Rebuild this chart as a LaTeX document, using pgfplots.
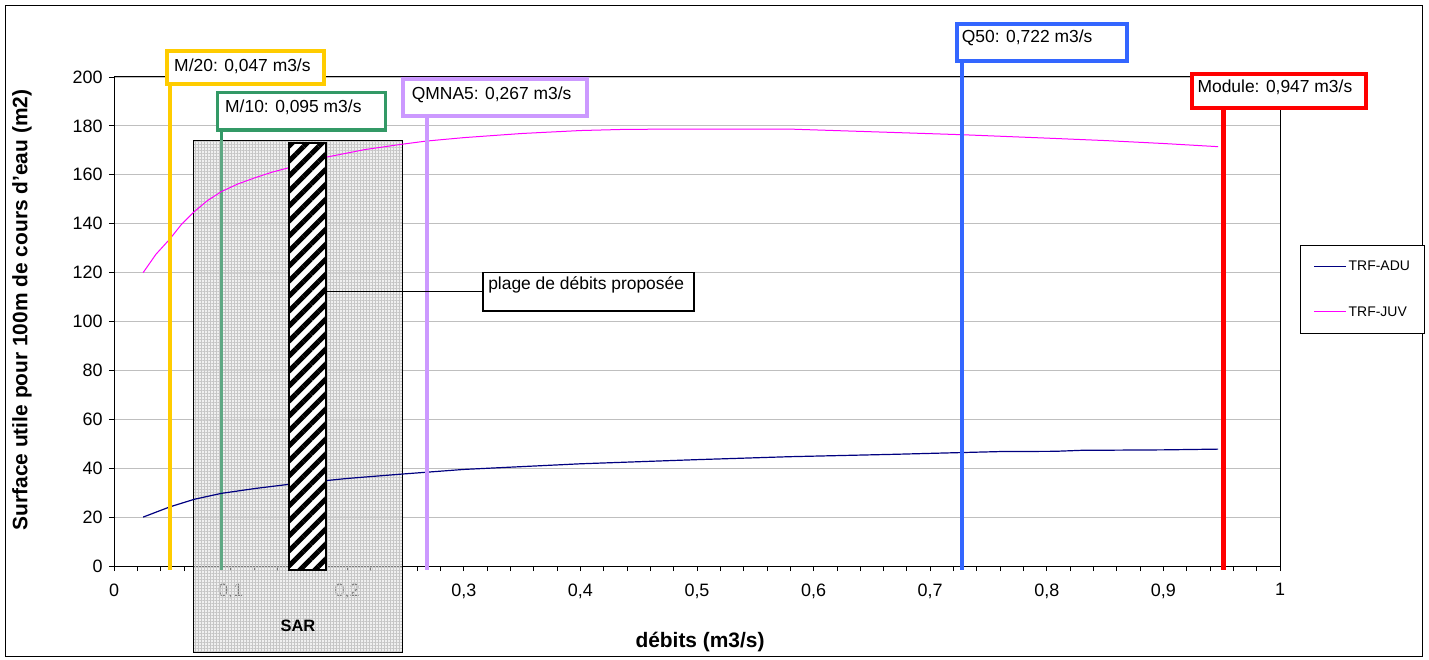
\documentclass[border=0pt]{standalone}
\usepackage{fontspec}
\setmainfont{Liberation Sans}
\usepackage{pgfplots}
\pgfplotsset{compat=1.18}
\usetikzlibrary{patterns.meta}
\definecolor{cyellow}{HTML}{FFCC00}
\definecolor{cgreen}{HTML}{339966}
\definecolor{cgreenm}{HTML}{5EA883}
\definecolor{cpurple}{HTML}{CC99FF}
\definecolor{cblue}{HTML}{3366FF}
\definecolor{cred}{HTML}{FF0000}
\definecolor{cnavy}{HTML}{000080}
\definecolor{cmag}{HTML}{FF00FF}
\begin{document}
\begin{tikzpicture}
\draw[black, line width=1bp] (-108bp,560bp) rectangle (1308bp,-90bp);
\begin{axis}[
  at={(0,0)}, anchor=south west,
  scale only axis, width=1166bp, height=489bp,
  xmin=0, xmax=1, ymin=0, ymax=200,
  set layers, clip=false,
  axis line style={line width=1bp},
  xtick={0,0.1,0.2,0.3,0.4,0.5,0.6,0.7,0.8,0.9,1},
  ytick={0,20,40,60,80,100,120,140,160,180,200},
  minor x tick num=4,
  xtick pos=left, ytick pos=left,
  tick align=outside,
  major tick length=5bp, minor tick length=5bp,
  tick style={black, line width=0.8bp},
  ymajorgrids, major grid style={gray!50, line width=0.8bp},
  /pgf/number format/use comma,
  /pgf/number format/assume math mode=true,
  tick label style={font=\fontsize{18}{18}\selectfont},
  xticklabel style={yshift=-9bp},
  yticklabel style={xshift=-3bp},
  xlabel={débits (m3/s)},
  ylabel={Surface utile pour 100m de cours d'eau (m2)},
  xlabel style={font=\bfseries\fontsize{21}{21}\selectfont, at={(axis description cs:0.5026,-0.1554)}, anchor=center},
  ylabel style={font=\bfseries\fontsize{21}{21}\selectfont, at={(axis description cs:-0.0789,0.5235)}, anchor=center},
  legend style={at={(1.01715,0.47444)}, anchor=south west, draw=black, line width=1bp,
    font=\fontsize{14}{14}\selectfont, inner xsep=13bp, inner ysep=14bp, row sep=30bp,
    cells={anchor=west}},
  legend image code/.code={\draw[#1] (0bp,0bp) -- (32bp,0bp);},
]
% SAR box
\addplot[forget plot, draw=black, line width=1bp, fill=gray!22, fill opacity=0.55,
  postaction={pattern={Hatch[angle=0,distance=3bp,line width=0.3bp]}, pattern color=gray!45, fill opacity=0.3}]
  coordinates {(0.0686,-35.2) (0.2470,-35.2) (0.2470,174.2) (0.0686,174.2)} --cycle;
% M/10 line (seen through the SAR box)
\addplot[forget plot, cgreenm, line width=3.5bp] coordinates {(0.0924,-1.6) (0.0924,174.2)};
\addplot[forget plot, cgreen, line width=3.5bp] coordinates {(0.0924,174.2) (0.0924,178.3)};
% curves
\addplot[cnavy, line width=1.2bp] coordinates {
(0.025,20) (0.048,24.2) (0.069,27.3) (0.092,29.7) (0.121,31.7) (0.15,33.4) (0.2,35.8) (0.247,37.6)
(0.3,39.5) (0.4,41.8) (0.5,43.5) (0.579,44.7) (0.671,45.7) (0.727,46.4) (0.76,46.8)
(0.807,46.9) (0.829,47.3) (0.9,47.5) (0.947,47.8)};
\addlegendentry{TRF-ADU}
\addplot[cmag, line width=1bp] coordinates {
(0.025,120) (0.036,127.5) (0.048,133.8) (0.058,139.8) (0.069,145) (0.080,149.4) (0.092,153.1)
(0.106,156.2) (0.121,158.8) (0.135,161) (0.15,162.9) (0.182,167.2) (0.215,170.3) (0.247,172.5)
(0.268,173.8) (0.3,175.2) (0.35,176.9) (0.4,178.1) (0.44,178.6) (0.503,178.7) (0.579,178.7)
(0.65,177.6) (0.727,176.4) (0.8,175.0) (0.85,174) (0.9,172.8) (0.947,171.5)};
\addlegendentry{TRF-JUV}
% proposed range (hatched bar)
\addplot[forget plot, draw=black, line width=1.5bp, preaction={fill=white},
  pattern={Lines[angle=45,distance=10.6bp,line width=5bp]}, pattern color=black]
  coordinates {(0.1501,-1.6) (0.1818,-1.6) (0.1818,173.0) (0.1501,173.0)} --cycle;
% reference discharge lines
\addplot[forget plot, cyellow, line width=4bp] coordinates {(0.0480,-1.6) (0.0480,197.1)};
\addplot[forget plot, cpurple, line width=4bp] coordinates {(0.2682,-1.6) (0.2682,184.0)};
\addplot[forget plot, cblue, line width=4bp] coordinates {(0.7271,-1.6) (0.7271,206.7)};
\addplot[forget plot, cred, line width=4.5bp] coordinates {(0.9514,-1.6) (0.9514,187.3)};
% label boxes
\draw[cyellow, line width=4bp, fill=white] (axis cs:0.0452,210.8) rectangle (axis cs:0.1801,197.1);
\node[anchor=base west, inner sep=0pt, font=\fontsize{17.5}{18}\selectfont] at (axis cs:0.0515,202.2) {M/20: 0,047 m3/s};
\draw[cgreen, line width=3.5bp, fill=white] (axis cs:0.0889,193.7) rectangle (axis cs:0.2330,178.3);
\node[anchor=base west, inner sep=0pt, font=\fontsize{17.5}{18}\selectfont] at (axis cs:0.0952,185.4) {M/10: 0,095 m3/s};
\draw[cpurple, line width=4bp, fill=white] (axis cs:0.2481,199.2) rectangle (axis cs:0.4057,184.0);
\node[anchor=base west, inner sep=0pt, font=\fontsize{17.5}{18}\selectfont] at (axis cs:0.2553,190.6) {QMNA5: 0,267 m3/s};
\draw[cblue, line width=4bp, fill=white] (axis cs:0.7232,221.7) rectangle (axis cs:0.8685,206.7);
\node[anchor=base west, inner sep=0pt, font=\fontsize{17.5}{18}\selectfont] at (axis cs:0.7270,214.0) {Q50: 0,722 m3/s};
\draw[cred, line width=4bp, fill=white] (axis cs:0.9243,201.2) rectangle (axis cs:1.0735,187.3);
\node[anchor=base west, inner sep=0pt, font=\fontsize{17.5}{18}\selectfont] at (axis cs:0.9291,193.6) {Module: 0,947 m3/s};
% callout
\draw[black, line width=1bp] (axis cs:0.1818,112.1) -- (axis cs:0.3165,112.1);
\draw[black, line width=1.2bp, fill=white] (axis cs:0.3165,120.2) rectangle (axis cs:0.4974,104.3);
\node[anchor=base west, inner sep=0pt, font=\fontsize{17.5}{18}\selectfont] at (axis cs:0.3208,113.2) {plage de débits proposée};
\node[font=\bfseries\fontsize{16.5}{17}\selectfont] at (axis cs:0.1578,-24.5) {SAR};
\end{axis}
\pgfresetboundingbox
\path[use as bounding box] (-114bp,-94bp) rectangle (1315bp,566bp);
\end{tikzpicture}
\end{document}
